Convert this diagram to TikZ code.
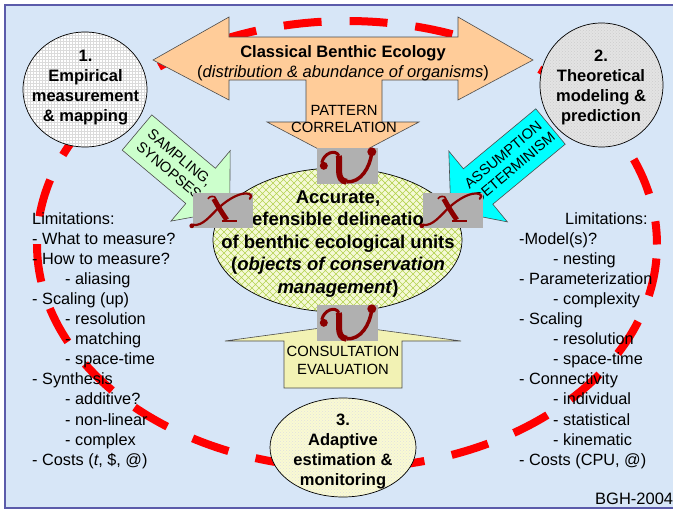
\documentclass[tikz,border=0pt]{standalone}
\usepackage{fontspec}
\setmainfont{Liberation Sans}
\usetikzlibrary{shapes.geometric,patterns}

\definecolor{sky}{HTML}{D7E6F7}
\definecolor{frameblue}{HTML}{5B5BAA}
\definecolor{peach}{HTML}{FFCC99}
\definecolor{mint}{HTML}{CCFFCC}
\definecolor{aqua}{HTML}{00FFFF}
\definecolor{cream}{HTML}{F2F2B4}
\definecolor{paleolive}{HTML}{F5F9D6}
\definecolor{hatchgreen}{HTML}{B4D250}
\definecolor{stamp}{HTML}{B0B0B0}
\definecolor{ink}{HTML}{8B0000}
\definecolor{loopred}{HTML}{FF0000}
\definecolor{paleyellow}{HTML}{FAFAD2}

% open diagonal lattice used inside the central ellipse
\pgfdeclarepatternformonly{lattice}{\pgfqpoint{-1pt}{-1pt}}{\pgfqpoint{8pt}{8pt}}{\pgfqpoint{7pt}{7pt}}{%
  \pgfsetlinewidth{0.7pt}%
  \pgfpathmoveto{\pgfqpoint{0pt}{0pt}}\pgfpathlineto{\pgfqpoint{7pt}{7pt}}%
  \pgfpathmoveto{\pgfqpoint{0pt}{7pt}}\pgfpathlineto{\pgfqpoint{7pt}{0pt}}%
  \pgfusepath{stroke}}

\tikzset{
  bigarrow/.style={draw=black!70, line width=0.6pt, line join=miter},
  listtext/.style={font=\fontsize{16.3}{20.1}\selectfont, align=left, inner sep=0pt, anchor=north west},
  boldlabel/.style={font=\bfseries\fontsize{16.5}{20}\selectfont, align=center, inner sep=0pt},
  capslabel/.style={font=\fontsize{14.8}{17.5}\selectfont, align=center, inner sep=0pt},
  slantlabel/.style={font=\fontsize{14.5}{17}\selectfont, align=center, inner sep=0pt},
  stagebubble/.style={ellipse, draw=black, line width=0.7pt, inner sep=0pt},
  stampbox/.style={rectangle, fill=stamp, inner sep=0pt, minimum width=60pt, minimum height=35pt},
  xglyph/.pic={
    \fill[ink] (-1,33) circle[radius=2.4];
    \draw[ink, line width=2.2pt, line cap=round]
      (0,32) .. controls (10,34) and (18,22) .. (27,14)
             .. controls (36,6) and (48,-1) .. (56,1)
             .. controls (59,2) and (59,5) .. (57,6);
    \draw[ink, line width=5pt] (21,6) .. controls (25,13) and (29,20) .. (34,27);
    \draw[ink, line width=1.6pt] (15,6) .. controls (17,3) and (21,3) .. (23,5);
    \draw[ink, line width=1.8pt] (29,28) -- (44,28);
  },
  vglyph/.pic={
    \fill[ink] (7,18) circle[radius=4];
    \draw[ink, line width=3pt] (5,15) .. controls (7,5) and (19,1) .. (22,8);
    \draw[ink, line width=6pt] (22,8) .. controls (24,16) and (18,33) .. (30,34);
    \draw[ink, line width=3.5pt] (30,34) .. controls (44,35) and (53,20) .. (55,5);
    \fill[ink] (55,4) circle[radius=4.5];
  }
}

\begin{document}
\begin{tikzpicture}[x=1pt, y=-1pt]
\useasboundingbox (0,0) rectangle (673,512);

% page and framed panel
\fill[white] (0,0) rectangle (673,512);
\fill[sky] (5,5) rectangle (690,508);
\draw[frameblue, line width=1.6pt] (5,5) rectangle (690,508);

% red dashed cycle linking the three stages
\draw[loopred, line width=8pt, dash pattern=on 38pt off 28pt, dash phase=52pt]
  (347,244.5) ellipse [x radius=310, y radius=223.5];

% limitation lists
\node (limleft) [listtext] at (32,212) {Limitations:\\
- What to measure?\\
- How to measure?\\
\hspace*{33pt}- aliasing\\
- Scaling (up)\\
\hspace*{33pt}- resolution\\
\hspace*{33pt}- matching\\
\hspace*{33pt}- space-time\\
- Synthesis\\
\hspace*{33pt}- additive?\\
\hspace*{33pt}- non-linear\\
\hspace*{33pt}- complex\\
- Costs (\textit{t}, \$, @)};

\node (limright) [listtext] at (519,212) {\hspace*{46pt}Limitations:\\
-Model(s)?\\
\hspace*{34pt}- nesting\\
- Parameterization\\
\hspace*{34pt}- complexity\\
- Scaling\\
\hspace*{34pt}- resolution\\
\hspace*{34pt}- space-time\\
- Connectivity\\
\hspace*{34pt}- individual\\
\hspace*{34pt}- statistical\\
\hspace*{34pt}- kinematic\\
- Costs (CPU, @)};

% classical ecology: double arrow with a downward branch
\draw[bigarrow, fill=peach]
  (153,60) -- (229,17) -- (229,37) -- (458,37) -- (458,17) -- (533,60)
  -- (458,100) -- (458,80) -- (382,80) -- (382,122) -- (419,122)
  -- (343,162) -- (267,122) -- (306,122) -- (306,80) -- (229,80)
  -- (229,100) -- cycle;
\node (classic) [boldlabel] at (343,63.7)
  {Classical Benthic Ecology\\{\mdseries(\textit{distribution \& abundance of organisms})}};
\node (pattern) [capslabel] at (344,119.2) {PATTERN\\CORRELATION};

% sampling arrow (from stage 1)
\draw[bigarrow, fill=mint]
  (151.8,114.9) -- (215.4,168.3) -- (230.2,150.7) -- (229.7,210.3)
  -- (171.0,221.1) -- (185.8,203.5) -- (122.2,150.1) -- cycle;
\node (sampling) [slantlabel, rotate=-40] at (174.5,164) {SAMPLING,\\SYNOPSES};

% assumption arrow (from stage 2)
\draw[bigarrow, fill=aqua]
  (535.8,108.8) -- (565.2,144.2) -- (492.8,204.2) -- (507.4,221.9)
  -- (450.8,210.7) -- (448.8,151.1) -- (463.4,168.8) -- cycle;
\node (assumption) [slantlabel, rotate=40] at (508.5,161.3) {ASSUMPTION\\DETERMINISM};

% consultation arrow (towards stage 3)
\draw[bigarrow, fill=cream]
  (225,341) -- (343,325) -- (461,341) -- (402,341) -- (402,388)
  -- (284,388) -- (284,341) -- cycle;
\node (consult) [capslabel] at (343,360.6) {CONSULTATION\\EVALUATION};

% central goal
\node (core) [stagebubble, minimum width=249pt, minimum height=144pt,
  preaction={fill=paleolive}, pattern=lattice, pattern color=hatchgreen] at (337.5,240) {};
\node (coretxt) [font=\bfseries\fontsize{18.5}{22.5}\selectfont, align=center, inner sep=0pt]
  at (338,244) {Accurate,\\defensible delineation\\of benthic ecological units\\
  (\textit{objects of conservation}\\\textit{management})};

% the three stages
\node (emp) [stagebubble, minimum width=124pt, minimum height=115pt,
  preaction={fill=white}, pattern=grid, pattern color=black!14] at (85,89.5) {};
\node (emptxt) [boldlabel] at (85.5,87.5) {1.\\Empirical\\measurement\\\& mapping};

\node (theo) [stagebubble, minimum width=123pt, minimum height=124pt,
  preaction={fill=black!11}, pattern=crosshatch dots, pattern color=black!20] at (601.5,85) {};
\node (theotxt) [boldlabel] at (601,87.7) {2.\\Theoretical\\modeling \&\\prediction};

\node (adapt) [stagebubble, minimum width=146pt, minimum height=99pt,
  preaction={fill=paleyellow}, pattern=crosshatch dots, pattern color=black!12] at (343,447.5) {};
\node (adapttxt) [boldlabel] at (343,451) {3.\\Adaptive\\estimation \&\\monitoring};

% verdict stamps
\node (xleft) [stampbox] at (223,210.5) {};
\node (xright) [stampbox] at (453,210.5) {};
\node (vtop) [stampbox, minimum width=61pt, minimum height=36pt] at (347.5,166) {};
\node (vbottom) [stampbox, minimum width=61pt, minimum height=36pt] at (347.5,323) {};
\pic at (xleft.north west) {xglyph};
\pic at (xright.north west) {xglyph};
\pic at (vtop.north west) {vglyph};
\pic at (vbottom.north west) {vglyph};

% credit
\node (credit) [font=\fontsize{16.5}{20}\selectfont, inner sep=0pt, anchor=base west] at (595,504) {BGH-2004};
\end{tikzpicture}
\end{document}
